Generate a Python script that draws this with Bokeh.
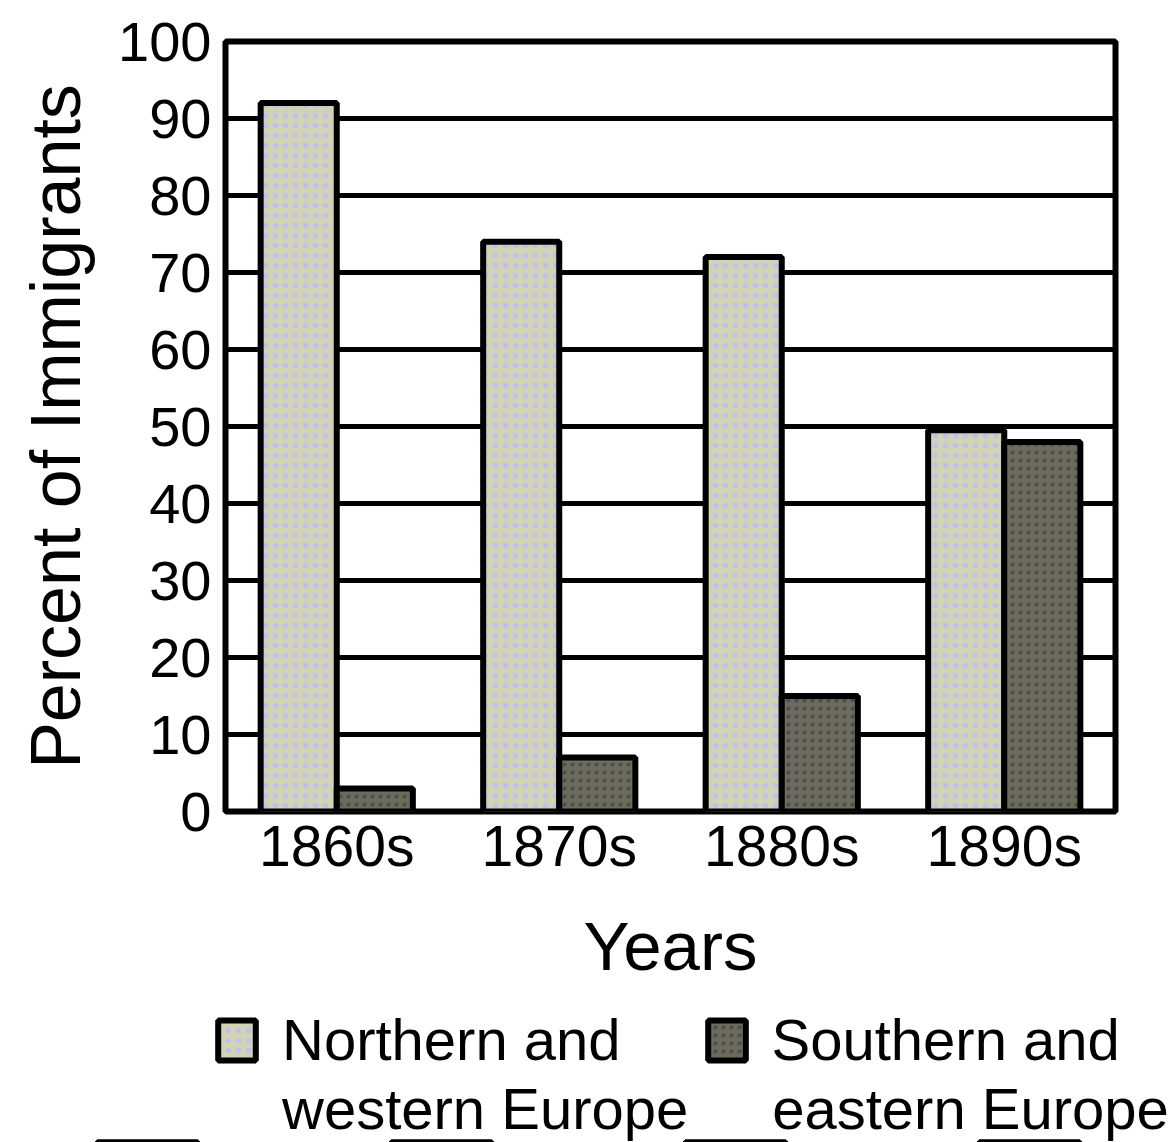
from bokeh.plotting import figure
from bokeh.layouts import column, row
from bokeh.models import FactorRange, Range1d, Legend, LegendItem, ColumnDataSource, FixedTicker
from bokeh.transform import dodge
from bokeh.embed import file_html
from bokeh.resources import INLINE

years = ["1860s", "1870s", "1880s", "1890s"]
northern_western = [92, 74, 72, 49.5]
southern_eastern = [3, 7, 15, 48]
y_ticks = [0, 10, 20, 30, 40, 50, 60, 70, 80, 90, 100]
series_labels_line1 = ["Northern and", "Southern and"]
series_labels_line2 = ["western Europe", "eastern Europe"]

NW_STYLE = dict(fill_color="#D2D2B4", line_color="black", line_width=6,
                hatch_pattern="dot", hatch_color="#BEBEF6", hatch_scale=10, hatch_weight=4)
SE_STYLE = dict(fill_color="#6C6C58", line_color="black", line_width=6,
                hatch_pattern="dot", hatch_color="#4A4A5C", hatch_scale=8, hatch_weight=3)

source = ColumnDataSource(dict(year=years, nw=northern_western, se=southern_eastern))

# ---------------- main chart ----------------
p = figure(
    x_range=FactorRange(factors=years, range_padding=0),
    y_range=Range1d(0, 100),
    width=1176, height=1000,
    output_backend="svg", toolbar_location=None,
    min_border_left=225, min_border_right=61, min_border_top=41, min_border_bottom=189,
)

p.vbar(x=dodge("year", -0.171, range=p.x_range), top="nw", width=0.342, source=source, **NW_STYLE)
p.vbar(x=dodge("year", 0.171, range=p.x_range), top="se", width=0.342, source=source, **SE_STYLE)

p.outline_line_color = "black"
p.outline_line_width = 6
p.background_fill_color = "white"
p.border_fill_color = "white"

p.ygrid.grid_line_color = "black"
p.ygrid.grid_line_width = 5
p.xgrid.grid_line_color = None

p.yaxis.ticker = FixedTicker(ticks=y_ticks)
for ax in (p.xaxis[0], p.yaxis[0]):
    ax.axis_line_color = None
    ax.major_tick_line_color = None
    ax.minor_tick_line_color = None
    ax.major_tick_out = 0
    ax.major_tick_in = 0
    ax.major_label_text_color = "black"
    ax.axis_label_text_color = "black"
    ax.axis_label_text_font_style = "normal"

p.yaxis.major_label_text_font = "Liberation Sans"
p.yaxis.major_label_text_font_size = "56px"
p.yaxis.major_label_standoff = 14
p.yaxis.axis_label = "Percent of Immigrants"
p.yaxis.axis_label_text_font = "Liberation Sans"
p.yaxis.axis_label_text_font_size = "70px"
p.yaxis.axis_label_standoff = 20

p.xaxis.major_label_text_font = "Liberation Sans"
p.xaxis.major_label_text_font_size = "57px"
p.xaxis.major_label_standoff = 2
p.xaxis.axis_label = "Years"
p.xaxis.axis_label_text_font = "Liberation Sans"
p.xaxis.axis_label_text_font_size = "69px"
p.xaxis.axis_label_standoff = 27

# ---------------- legend strip ----------------
# Same series drawn again in a strip whose y-range lies above them, so only the legend shows.
lg = figure(
    x_range=FactorRange(factors=years, range_padding=0), y_range=Range1d(200, 300),
    width=1176, height=142, output_backend="svg", toolbar_location=None,
    x_axis_type=None, y_axis_type=None,
    min_border_left=0, min_border_right=0, min_border_top=0, min_border_bottom=0,
)
lg.outline_line_color = None
lg.grid.visible = False
proxy_nw = lg.vbar(x="year", top="nw", width=0.342, source=source, **NW_STYLE)
proxy_se = lg.vbar(x="year", top="se", width=0.342, source=source, **SE_STYLE)
proxy_blank = lg.vbar(x="year", top="nw", width=0.342, source=source, fill_alpha=0, line_alpha=0)

common = dict(
    orientation="horizontal", padding=0, margin=0,
    glyph_width=47, glyph_height=50, label_standoff=22,
    label_text_font="Liberation Sans", label_text_font_size="58px",
    label_text_color="black", border_line_color=None, background_fill_alpha=0,
)
legend1 = Legend(
    items=[LegendItem(label=series_labels_line1[0], renderers=[proxy_nw]),
           LegendItem(label=series_labels_line1[1], renderers=[proxy_se])],
    location=(213, 69), spacing=82, **common,
)
legend2 = Legend(
    items=[LegendItem(label=series_labels_line2[0], renderers=[proxy_blank]),
           LegendItem(label=series_labels_line2[1], renderers=[proxy_blank])],
    location=(213, 0), spacing=15, **common,
)
lg.add_layout(legend1)
lg.add_layout(legend2)

page = column(p, row(lg), spacing=0)
open("out.html", "w").write(file_html(page, INLINE))
